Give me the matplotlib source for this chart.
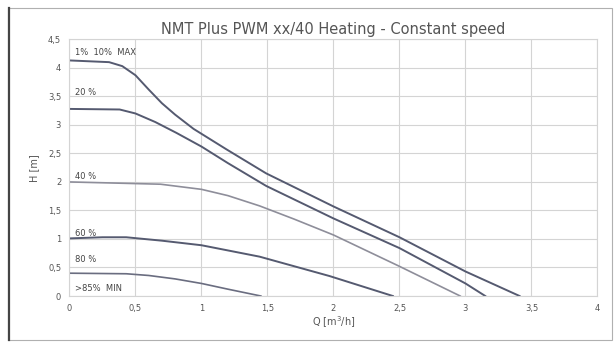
import matplotlib
matplotlib.use("Agg")
import matplotlib.pyplot as plt
from matplotlib.patches import Rectangle

# Q [m3/h] and H [m] points
q_max = [0.0, 0.3, 0.4, 0.5, 0.6, 0.7, 0.8, 0.94, 1.19, 1.49, 2.0, 2.5, 3.0, 3.41]
h_max = [4.13, 4.10, 4.03, 3.87, 3.62, 3.38, 3.18, 2.93, 2.57, 2.15, 1.57, 1.03, 0.43, 0.0]

q_70 = [0.0, 0.38, 0.5, 0.65, 0.81, 1.0, 1.2, 1.49, 2.0, 2.5, 3.0, 3.15]
h_70 = [3.28, 3.27, 3.20, 3.05, 2.86, 2.62, 2.33, 1.93, 1.36, 0.84, 0.22, 0.0]

q_40 = [0.0, 0.69, 1.0, 1.2, 1.44, 1.7, 2.0, 2.5, 2.96]
h_40 = [2.0, 1.96, 1.87, 1.76, 1.58, 1.35, 1.07, 0.52, 0.0]

q_60 = [0.0, 0.25, 0.43, 0.7, 1.0, 1.44, 1.97, 2.45]
h_60 = [1.01, 1.03, 1.03, 0.97, 0.89, 0.69, 0.35, 0.0]

q_min = [0.0, 0.43, 0.6, 0.8, 1.0, 1.2, 1.45]
h_min = [0.40, 0.39, 0.36, 0.30, 0.22, 0.12, 0.0]

labels = ["1%  10%  MAX", "20 %", "40 %", "60 %", "80 %", ">85%  MIN"]
label_y = [4.27, 3.57, 2.1, 1.1, 0.64, 0.14]

xticks = [0, 0.5, 1, 1.5, 2, 2.5, 3, 3.5, 4]
yticks = [0, 0.5, 1, 1.5, 2, 2.5, 3, 3.5, 4, 4.5]


def fmt(v):
    return ("%g" % v).replace(".", ",")


fig = plt.figure(figsize=(6.15, 3.45), dpi=100)
fig.patches.append(Rectangle((8 / 615, 5 / 345), 604 / 615, 332 / 345,
                             transform=fig.transFigure, fill=False,
                             edgecolor="#b0b0b0", lw=0.8))
fig.lines.append(plt.Line2D([9 / 615, 9 / 615], [5 / 345, 337 / 345],
                            transform=fig.transFigure, color="#444444", lw=1.6))

ax = fig.add_axes([0.113, 0.142, 0.8585, 0.744])

dark = "#555a70"
ax.plot(q_max, h_max, color=dark, lw=1.4)
ax.plot(q_70, h_70, color=dark, lw=1.4)
ax.plot(q_40, h_40, color="#8e8e9a", lw=1.2)
ax.plot(q_60, h_60, color=dark, lw=1.4)
ax.plot(q_min, h_min, color="#6a6d80", lw=1.2)

for txt, yy in zip(labels, label_y):
    ax.text(0.04, yy, txt, fontsize=6, color="#444444", va="center", ha="left")

ax.set_xlim(0, 4)
ax.set_ylim(0, 4.5)
ax.set_xticks(xticks)
ax.set_xticklabels([fmt(v) for v in xticks])
ax.set_yticks(yticks)
ax.set_yticklabels([fmt(v) for v in yticks])
ax.tick_params(labelsize=6, colors="#555555", length=0, pad=6)
ax.grid(True, color="#d4d4d4", lw=0.8)
for s in ax.spines.values():
    s.set_color("#d4d4d4")
    s.set_linewidth(0.8)

ax.set_title("NMT Plus PWM xx/40 Heating - Constant speed", fontsize=10.5,
             color="#555555", pad=4)
ax.set_xlabel("Q [m$^3$/h]", fontsize=7, color="#555555", labelpad=1)
ax.set_ylabel("H [m]", fontsize=7, color="#555555", labelpad=6)

fig.savefig("out.png", dpi=100)
